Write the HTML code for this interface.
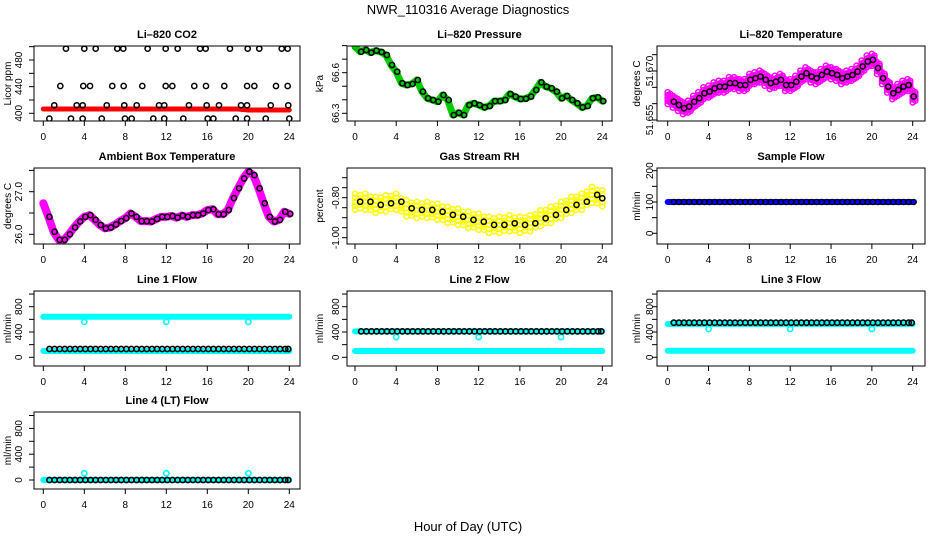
<!DOCTYPE html>
<html><head><meta charset="utf-8"><style>
html,body{margin:0;padding:0;background:#fff;}
svg{display:block;font-family:"Liberation Sans",Arial,sans-serif;}
</style></head><body>
<svg id="chart" width="936" height="540" viewBox="0 0 936 540" xmlns="http://www.w3.org/2000/svg">
<rect x="0" y="0" width="936" height="540" fill="#fff"/>
<text x="468" y="14" text-anchor="middle" font-size="13">NWR_110316  Average Diagnostics</text>
<text x="468" y="531" text-anchor="middle" font-size="13">Hour of Day (UTC)</text>
</svg>
<script>
// ---- data ----
const halfHours = [0,0.5,1,1.5,2,2.5,3,3.5,4,4.5,5,5.5,6,6.5,7,7.5,8,8.5,9,9.5,10,10.5,11,11.5,12,12.5,13,13.5,14,14.5,15,15.5,16,16.5,17,17.5,18,18.5,19,19.5,20,20.5,21,21.5,22,22.5,23,23.5,24];
const hours = [0,1,2,3,4,5,6,7,8,9,10,11,12,13,14,15,16,17,18,19,20,21,22,23,24];
const xTicks = [0,4,8,12,16,20,24];

const co2Hours500 = [2.21,4.0,5.11,7.22,7.8,10.18,11.94,13.11,15.29,15.84,18.21,19.94,21.07,23.26,23.84];
const co2Hours441 = [1.66,3.9,4.56,6.73,7.84,9.66,11.94,12.59,14.73,15.87,17.66,19.88,20.59,22.7,23.84];
const co2Hours412 = [1.07,3.26,3.84,6.19,7.9,9.11,11.29,11.8,14.21,15.94,17.14,19.29,19.88,22.19,23.9];
const co2Hours392 = [0.59,2.7,3.84,5.7,7.97,8.62,10.73,11.8,13.66,16.04,16.59,18.77,19.88,21.7,24.0];
const co2Levels = [497,441,412,392];
const co2Red = [406.5,406.5,406.5,406.5,406.5,406.5,406.5,406.5,406.5,406.5,406.5,406.5,406.5,406.5,406.5,406.5,406.5,406.5,406.5,406.5,405,405,405,405,405];

const pressure = [66.792,66.755,66.768,66.748,66.763,66.753,66.731,66.657,66.607,66.522,66.509,66.517,66.546,66.46,66.411,66.398,66.386,66.435,66.398,66.287,66.304,66.287,66.361,66.374,66.361,66.344,66.354,66.39,66.39,66.398,66.443,66.423,66.406,66.408,66.423,66.472,66.529,66.497,66.485,66.46,66.411,66.428,66.398,66.374,66.344,66.354,66.411,66.418,66.39];

const licorTemp = [51.6617,51.6606,51.6596,51.6586,51.6591,51.6606,51.6617,51.6632,51.6637,51.6647,51.6652,51.6652,51.6663,51.6663,51.6657,51.6657,51.6673,51.6678,51.6683,51.6673,51.6663,51.6667,51.6673,51.6657,51.6657,51.6667,51.6683,51.6693,51.6683,51.6678,51.6688,51.6698,51.6693,51.6688,51.6678,51.6683,51.6688,51.6698,51.6714,51.6729,51.6734,51.6709,51.6678,51.6652,51.6632,51.6642,51.6652,51.6657,51.6622];

const ambient = [26.73,26.41,26.06,25.87,25.87,26.0,26.16,26.30,26.41,26.45,26.34,26.22,26.14,26.16,26.23,26.31,26.38,26.49,26.41,26.31,26.31,26.30,26.36,26.41,26.41,26.43,26.39,26.44,26.41,26.45,26.45,26.49,26.57,26.59,26.47,26.47,26.57,26.85,27.08,27.31,27.47,27.39,27.08,26.73,26.41,26.30,26.34,26.53,26.48];

const gasRH = [-0.82,-0.82,-0.836,-0.828,-0.82,-0.853,-0.861,-0.861,-0.87,-0.886,-0.895,-0.911,-0.92,-0.936,-0.936,-0.928,-0.936,-0.928,-0.903,-0.886,-0.861,-0.836,-0.82,-0.786,-0.803];

const sampleFlow = 100;
const line1Cyan = [642,100]; const line1Black = 131; const line1Dip = 560;
const line2Cyan = [410,100]; const line2Black = 410; const line2Dip = 320;
const line3Cyan = [526,104]; const line3Black = 547; const line3Dip = 447;
const line4Cyan = [0]; const line4Black = 0; const line4Dip = 104;
const dipHours = [4,12,20];

// ---- drawing ----
const NS = "http://www.w3.org/2000/svg";
const svg = document.getElementById('chart');
function mk(tag, attrs, parent){ const e=document.createElementNS(NS,tag); for(const k in attrs) e.setAttribute(k,attrs[k]); (parent||svg).appendChild(e); return e; }

const cols = [{bx0:34,bx1:300,h0:43.3,h24:289.3,tx:11,tlx:22},{bx0:347,bx1:612,h0:355,h24:602.3,tx:323,tlx:339},{bx0:657,bx1:925,h0:667.7,h24:912.7,tx:640,tlx:653}];
const rows = [{by0:46,by1:121},{by0:168,by1:244},{by0:291,by1:366},{by0:412,by1:489}];

function panel(name, r, c, title, ytitle, v0, p0, v1, p1, ticks, labels){
  const g = mk('g',{});
  
  
  const C=cols[c], R=rows[r];
  const xs = h => C.h0 + (C.h24-C.h0)*h/24;
  const ys = v => p0 + (v-v0)*(p1-p0)/(v1-v0);
  const clip = 'clip-'+name;
  const cp = mk('clipPath',{id:clip},g); mk('rect',{x:C.bx0,y:R.by0,width:C.bx1-C.bx0,height:R.by1-R.by0},cp);
  const plot = mk('g',{'clip-path':'url(#'+clip+')'},g);
  
  
  const frame = mk('rect',{x:C.bx0,y:R.by0,width:C.bx1-C.bx0,height:R.by1-R.by0,fill:'none',stroke:'#000','stroke-width':1},g);
  
  
  const t = mk('text',{x:(C.bx0+C.bx1)/2,y:R.by0-8,'text-anchor':'middle','font-size':11,'font-weight':'bold'},g);
  t.textContent = title;
  
  
  const yt = mk('text',{transform:`translate(${C.tx},${(R.by0+R.by1)/2}) rotate(-90)`,'text-anchor':'middle','font-size':10},g);
  yt.textContent = ytitle;
  
  
  // x axis ticks
  xTicks.forEach(h=>{
    mk('line',{x1:xs(h),x2:xs(h),y1:R.by1,y2:R.by1+5,stroke:'#000'},g);
    const l = mk('text',{x:xs(h),y:R.by1+19,'text-anchor':'middle','font-size':10},g);
    l.textContent = h;
    
    
  });
  // y axis ticks
  ticks.forEach(v=>{ if(ys(v)>=R.by0-0.5 && ys(v)<=R.by1+0.5) mk('line',{x1:C.bx0-5,x2:C.bx0,y1:ys(v),y2:ys(v),stroke:'#000'},g); });
  labels.forEach(s=>{
    const l = mk('text',{transform:`translate(${C.tlx},${ys(parseFloat(s))}) rotate(-90)`,'text-anchor':'middle','font-size':10},g);
    l.textContent = s;
    
    
  });
  return {plot, xs, ys};
}
function pt(p, x, y, color, sw, rr){
  const c = mk('circle',{cx:x,cy:y,r:rr||2.6,fill:'none',stroke:color,'stroke-width':sw||1.5},p);
  
  
}
function band(p, xsArr, ysArr, color, w){
  const d = xsArr.map((x,i)=>(i?'L':'M')+x+','+ysArr[i]).join(' ');
  const e = mk('path',{d, fill:'none', stroke:color,'stroke-width':w,'stroke-linejoin':'round','stroke-linecap':'round'},p);
  
  
}

// CO2
{
  const P = panel('co2-panel',0,0,'Li\u2013820 CO2','Licor ppm',400,113.3,480,60,[400,420,440,460,480,500],['400','440','480']);
  band(P.plot, hours.map(P.xs), co2Red.map(P.ys), '#ff0000', 5);
  [co2Hours500,co2Hours441,co2Hours412,co2Hours392].forEach((arr,k)=>arr.forEach(h=>pt(P.plot,P.xs(h),P.ys(co2Levels[k]),'#000')));
}
// Pressure
{
  const P = panel('pressure-panel',0,1,'Li\u2013820 Pressure','kPa',66.3,113.3,66.6,72.7,[66.3,66.4,66.5,66.6,66.7,66.8],['66.3','66.6']);
  band(P.plot, halfHours.map(P.xs), pressure.map(P.ys), '#00cc00', 7);
  pressure.forEach((v,i)=>pt(P.plot,P.xs(halfHours[i]),P.ys(v),'#00aa00',1.2));
  pressure.forEach((v,i)=>{ if(i>0) pt(P.plot,P.xs(halfHours[i]+0.1),P.ys(v),'#000'); });
}
// Li-820 temperature
{
  const P = panel('licor-temp-panel',0,2,'Li\u2013820 Temperature','degrees C',51.655,120,51.670,71,[51.655,51.660,51.665,51.670,51.675],['51.655','51.670']);
  [-0.0018,-0.0009,0,0.0009,0.0018].forEach(off=>licorTemp.forEach((v,i)=>{ pt(P.plot,P.xs(halfHours[i]),P.ys(v+off),'#ff00ff',1.5); pt(P.plot,P.xs(halfHours[i]+0.25),P.ys(v-off*0.7),'#ff00ff',1.5); }));
  licorTemp.forEach((v,i)=>{ if(i>0) pt(P.plot,P.xs(halfHours[i]+0.1),P.ys(v),'#000'); });
}
// Ambient
{
  const P = panel('ambient-temp-panel',1,0,'Ambient Box Temperature','degrees C',26.0,234.3,27.0,191.7,[26.0,26.5,27.0,27.5],['26.0','27.0']);
  band(P.plot, halfHours.map(P.xs), ambient.map(P.ys), '#ff00ff', 8);
  ambient.forEach((v,i)=>{ if(i>0) pt(P.plot,P.xs(halfHours[i]+0.1),P.ys(v),'#000'); });
}
// Gas RH
{
  const P = panel('gas-rh-panel',1,1,'Gas Stream RH','percent',-1.00,237.7,-0.80,197.7,[-1.05,-1.00,-0.95,-0.90,-0.85,-0.80,-0.75,-0.70],['-1.00','-0.80']);
  [-0.04,-0.02,0,0.02,0.04].forEach(off=>gasRH.forEach((v,i)=>{ pt(P.plot,P.xs(hours[i]),P.ys(v+off),'#ffff00',1.5); if(i<24){ pt(P.plot,P.xs(hours[i]+0.5),P.ys((v+gasRH[i+1])/2-off*0.8),'#ffff00',1.5);} }));
  gasRH.forEach((v,i)=>{ pt(P.plot,P.xs(Math.min(hours[i]+0.5,24)),P.ys(v),'#000'); });
}
// Sample flow
{
  const P = panel('sample-flow-panel',1,2,'Sample Flow','ml/min',0,233.3,200,170.7,[0,50,100,150,200],['0','100','200']);
  band(P.plot,[P.xs(0),P.xs(24)],[P.ys(sampleFlow),P.ys(sampleFlow)],'#0000ff',6);
  halfHours.forEach(h=>{ if(h>0) pt(P.plot,P.xs(h+0.1),P.ys(sampleFlow),'#000',1.3); });
}
// Line flows
function linePanel(name,r,c,title,p0,p200,cyan,black,dip){
  const P = panel(name,r,c,title,'ml/min',0,p0,200,p200,[0,200,400,600,800,1000],['0','400','800']);
  cyan.forEach(v=>band(P.plot,[P.xs(0),P.xs(24)],[P.ys(v),P.ys(v)],'#00ffff',6));
  dipHours.forEach(h=>pt(P.plot,P.xs(h),P.ys(dip),'#00ffff',1.6));
  halfHours.forEach(h=>{ if(h>0) pt(P.plot,P.xs(Math.min(h+0.1,23.9)),P.ys(black),'#000',1.6); });
}
linePanel('line1-flow-panel',2,0,'Line 1 Flow',357.3,344.65,line1Cyan,line1Black,line1Dip);
linePanel('line2-flow-panel',2,1,'Line 2 Flow',357.3,344.65,line2Cyan,line2Black,line2Dip);
linePanel('line3-flow-panel',2,2,'Line 3 Flow',357.3,344.65,line3Cyan,line3Black,line3Dip);
linePanel('line4-flow-panel',3,0,'Line 4 (LT) Flow',480,467.1,line4Cyan,line4Black,line4Dip);
</script>
</body></html>
